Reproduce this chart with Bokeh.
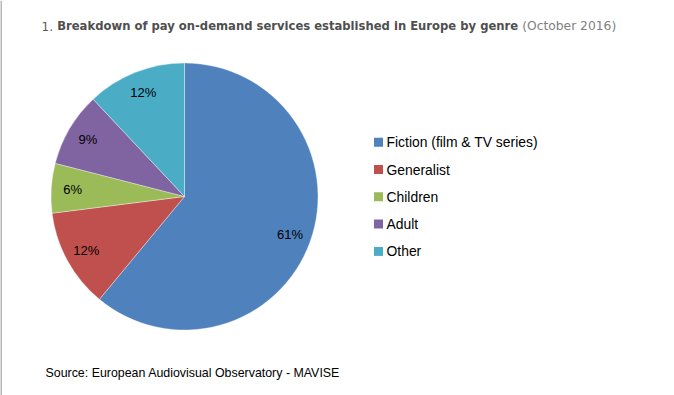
import math
from bokeh.plotting import figure
from bokeh.models import Range1d, ColumnDataSource
from bokeh.core.properties import value
from bokeh.embed import file_html
from bokeh.resources import INLINE

# ---- data ----
categories = ["Fiction (film & TV series)", "Generalist", "Children", "Adult", "Other"]
shares = [61, 12, 6, 9, 12]
colors = ["#4F81BD", "#C0504D", "#9BBB59", "#8064A2", "#4BACC6"]
title_num = "1."
title_bold = "Breakdown of pay on-demand services established in Europe by genre"
title_tail = "(October 2016)"
source_text = "Source: European Audiovisual Observatory - MAVISE"

W, H = 674, 395
p = figure(width=W, height=H, output_backend="svg", toolbar_location=None,
           x_range=Range1d(0, W), y_range=Range1d(0, H), min_border=0)
p.xaxis.visible = False
p.yaxis.visible = False
p.grid.visible = False
p.outline_line_color = None
p.background_fill_color = "white"
p.border_fill_color = "white"


def Y(sy):
    # screen y -> data y
    return H - sy


# left frame line
p.segment(x0=[0.5], y0=[0], x1=[0.5], y1=[H], line_color="#a0a0a0", line_width=1.5)

# ---- pie ----
cx, cy, r = 184, 196, 133.5
total = sum(shares)
starts, ends, lx, ly, labels = [], [], [], [], []
cum = 0.0
for v in shares:
    a0 = math.pi / 2 - 2 * math.pi * cum / total
    a1 = math.pi / 2 - 2 * math.pi * (cum + v) / total
    starts.append(a1)
    ends.append(a0)
    mid = (a0 + a1) / 2
    lr = 0.84 * r
    lx.append(cx + lr * math.cos(mid))
    ly.append(Y(cy) + lr * math.sin(mid))
    labels.append(f"{v}%")
    cum += v

src = ColumnDataSource(dict(start=starts, end=ends, color=colors,
                            lx=lx, ly=ly, label=labels))
p.wedge(x=cx, y=Y(cy), radius=r, radius_units="screen",
        start_angle="start", end_angle="end", direction="anticlock",
        fill_color="color", line_color="white", line_width=0.6, line_alpha=0.6,
        source=src)
p.text(x="lx", y="ly", text="label", source=src,
       text_font=value("Liberation Sans"), text_font_size="13px",
       text_color="#000000", text_align="center", text_baseline="middle")

# ---- legend ----
leg_x = 378
leg_y0 = 141.7
leg_dy = 27.3
lsq_x, lsq_y, ltx, lty = [], [], [], []
for i, c in enumerate(categories):
    sy = leg_y0 + i * leg_dy
    lsq_x.append(leg_x)
    lsq_y.append(Y(sy))
    ltx.append(leg_x + 8)
    lty.append(Y(sy))
lsrc = ColumnDataSource(dict(x=lsq_x, y=lsq_y, tx=ltx, ty=lty, color=colors, name=categories))
p.scatter(x="x", y="y", marker="square", size=9, fill_color="color", line_color=None, source=lsrc)
p.text(x="tx", y="ty", text="name", source=lsrc,
       text_font=value("Liberation Sans"), text_font_size="13.9px",
       text_color="#000000", text_align="left", text_baseline="middle")

# ---- title ----
ty = Y(25.5)
p.text(x=[41], y=[ty], text=[title_num], text_font=value("DejaVu Sans"),
       text_font_size="12px", text_color="#595959", text_baseline="middle")
p.text(x=[56.7], y=[ty], text=[title_bold], text_font=value("DejaVu Sans"),
       text_font_size="11.6px", text_font_style="bold", text_color="#4f4f4f",
       text_baseline="middle")
p.text(x=[521.7], y=[ty], text=[title_tail], text_font=value("DejaVu Sans"),
       text_font_size="12.3px", text_color="#7f7f7f", text_baseline="middle")

# ---- source ----
p.text(x=[45], y=[Y(372.5)], text=[source_text], text_font=value("Liberation Sans"),
       text_font_size="12.4px", text_color="#000000", text_baseline="middle")

open("out.html", "w").write(file_html(p, INLINE))
